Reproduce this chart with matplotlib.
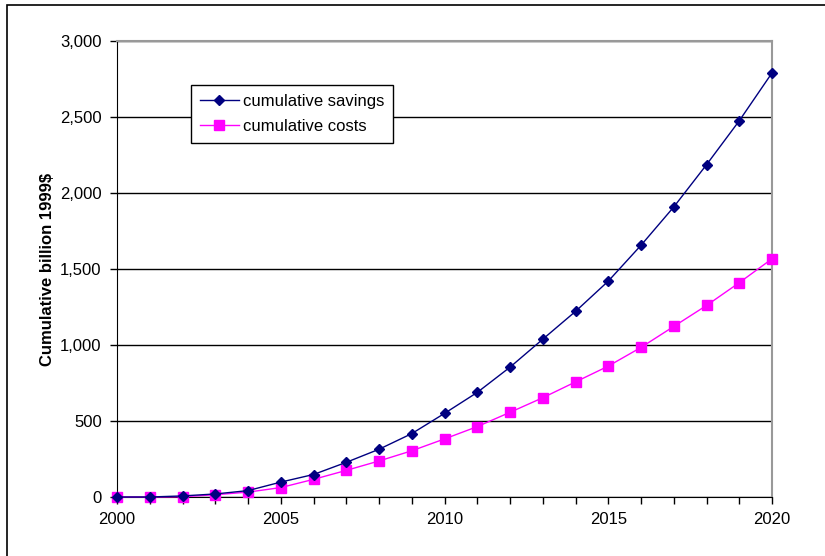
import numpy as np
import matplotlib.pyplot as plt
from matplotlib.patches import Rectangle
from matplotlib.ticker import FuncFormatter, MultipleLocator

plt.rcParams['font.family'] = ['Liberation Sans', 'DejaVu Sans']
plt.rcParams['font.size'] = 12

years = list(range(2000, 2021))
savings = [0, 0, 7, 20, 42, 98, 148, 228, 314, 417, 550,
           688, 854, 1038, 1221, 1420, 1656, 1908, 2186, 2475, 2790]
costs = [0, 0, 2, 15, 32, 62, 116, 175, 237, 304, 382,
         463, 557, 653, 757, 861, 984, 1122, 1260, 1410, 1567]

fig = plt.figure(figsize=(8.25, 5.56), dpi=100)
ax = fig.add_axes([117/825, 1-497/556, (772-117)/825, (497-41)/556])

ax.plot(years, savings, color='#000080', lw=1, marker='D', ms=5,
        label='cumulative savings', clip_on=False, zorder=4)
ax.plot(years, costs, color='#ff00ff', lw=1, marker='s', ms=7,
        label='cumulative costs', clip_on=False, zorder=3)

ax.set_xlim(2000, 2020)
ax.set_ylim(0, 3000)
ax.xaxis.set_major_locator(MultipleLocator(5))
ax.xaxis.set_minor_locator(MultipleLocator(1))
ax.yaxis.set_major_locator(MultipleLocator(500))
ax.yaxis.set_major_formatter(FuncFormatter(lambda v, p: f'{int(v):,}'))
ax.tick_params(axis='both', direction='out', length=5, width=1, colors='black', labelsize=12)
ax.tick_params(axis='x', which='minor', direction='out', length=5, width=1)
ax.tick_params(axis='x', pad=6)
ax.tick_params(axis='y', pad=6)
ax.grid(axis='y', color='black', lw=1)
ax.set_axisbelow(True)
for s in ['left', 'bottom']:
    ax.spines[s].set_color('black')
for s in ['top', 'right']:
    ax.spines[s].set_color('#999999')
    ax.spines[s].set_linewidth(1.5)

ax.set_ylabel('Cumulative billion 1999$', fontweight='bold', fontsize=12, labelpad=4)

leg = ax.legend(loc='upper left', bbox_to_anchor=((191-117)/655, (497-85)/456),
                frameon=True, fancybox=False, framealpha=1, edgecolor='black',
                borderpad=0.55, borderaxespad=0, handlelength=2.3, labelspacing=0.6,
                handletextpad=0.25, fontsize=12)
leg.get_frame().set_linewidth(1)

fig.patches.append(Rectangle((7/825, -0.1), 1.1, 1 - 5/556 + 0.1, transform=fig.transFigure,
                             fill=False, edgecolor='black', lw=1.2))

fig.savefig('out.png', dpi=100)
